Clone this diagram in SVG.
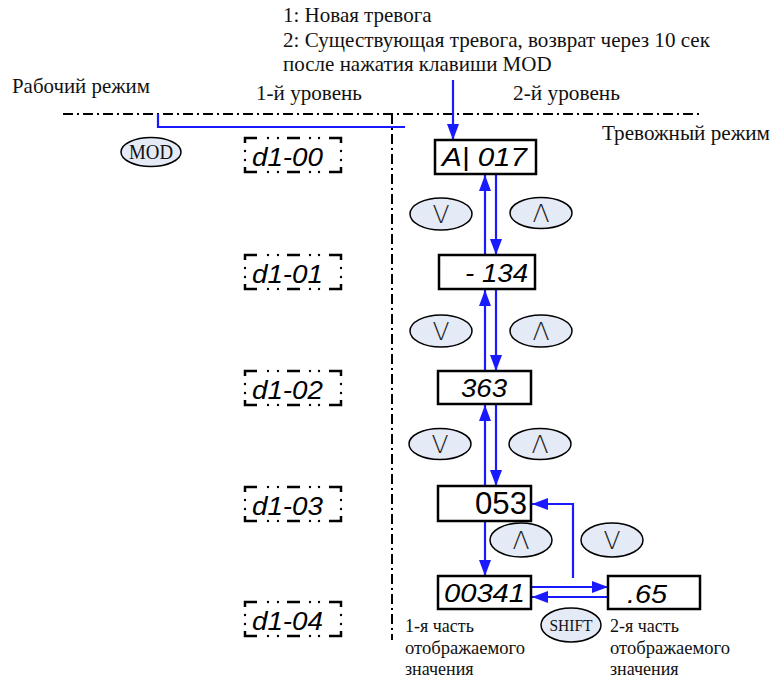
<svg xmlns="http://www.w3.org/2000/svg" width="773" height="682" viewBox="0 0 773 682">
<style>
.t{font-family:"Liberation Serif","Times New Roman",serif;font-size:21px;fill:#111}
.b{font-family:"Liberation Serif","Times New Roman",serif;font-size:18px;fill:#111}
.s{font-family:"Liberation Serif","Times New Roman",serif;fill:#111;text-anchor:middle}
.seg{font-family:"Liberation Sans",Arial,sans-serif;font-style:italic;font-size:25px;fill:#000}
.up{font-family:"Liberation Sans",Arial,sans-serif;font-size:31px;fill:#000}
.key{font-family:"DejaVu Sans","Liberation Sans",sans-serif;font-weight:200;font-size:25px;fill:#222;text-anchor:middle}
.box{fill:#fff;stroke:#000;stroke-width:2.5}
.el{fill:#e4eaf6;stroke:#000;stroke-width:1.5}
.dd{fill:none;stroke:#000;stroke-width:2;stroke-dasharray:10 4 2 4}
.c{fill:none;stroke:#1a1aff;stroke-width:2.2}
.fr{fill:none;stroke:#000;stroke-width:2.5}
.dot{fill:#000}
</style>
<defs>
<marker id="ah" markerUnits="userSpaceOnUse" markerWidth="16" markerHeight="12" refX="16" refY="6" orient="auto">
<path d="M0,0 L16,6 L0,12 z" fill="#1a1aff"/>
</marker>
<symbol id="frame" overflow="visible">
<path class="fr" d="M0,5 V0 H12 M84,0 H96 V5 M0,29 V34 H12 M84,34 H96 V29 M42,0 H55 M42,34 H55"/>
<g class="dot">
<circle cx="23" cy="0" r="1.2"/><circle cx="33" cy="0" r="1.2"/><circle cx="65" cy="0" r="1.2"/><circle cx="74" cy="0" r="1.2"/>
<circle cx="23" cy="34" r="1.2"/><circle cx="33" cy="34" r="1.2"/><circle cx="65" cy="34" r="1.2"/><circle cx="74" cy="34" r="1.2"/>
<circle cx="0" cy="13" r="1.2"/><circle cx="0" cy="22" r="1.2"/><circle cx="96" cy="13" r="1.2"/><circle cx="96" cy="22" r="1.2"/>
</g>
</symbol>
</defs>
<rect width="773" height="682" fill="#fff"/>

<g id="labels">
<text class="t" x="283" y="22">1: Новая тревога</text>
<text class="t" x="283" y="47" textLength="427" lengthAdjust="spacingAndGlyphs">2: Существующая тревога, возврат через 10 сек</text>
<text class="t" x="283" y="71">после нажатия клавиши MOD</text>
<text class="t" x="12" y="93" textLength="138" lengthAdjust="spacingAndGlyphs">Рабочий режим</text>
<text class="t" x="256" y="100" textLength="106" lengthAdjust="spacingAndGlyphs">1-й уровень</text>
<text class="t" x="513" y="100" textLength="107" lengthAdjust="spacingAndGlyphs">2-й уровень</text>
<text class="t" x="602" y="140" textLength="168" lengthAdjust="spacingAndGlyphs">Тревожный режим</text>
<text class="b" x="405" y="632">1-я часть</text>
<text class="b" x="405" y="654" textLength="120" lengthAdjust="spacingAndGlyphs">отображаемого</text>
<text class="b" x="405" y="675">значения</text>
<text class="b" x="610" y="632">2-я часть</text>
<text class="b" x="610" y="654" textLength="120" lengthAdjust="spacingAndGlyphs">отображаемого</text>
<text class="b" x="610" y="675">значения</text>
</g>

<g id="dividers">
<line class="dd" x1="63" y1="114" x2="700" y2="114"/>
<line class="dd" x1="392" y1="114" x2="392" y2="640"/>
</g>

<g id="level1">
<g id="d1-00"><use href="#frame" x="245" y="138"/><text class="seg" x="252" y="166" textLength="71" lengthAdjust="spacingAndGlyphs">d1-00</text></g>
<g id="d1-01"><use href="#frame" x="245" y="255"/><text class="seg" x="252" y="283" textLength="71" lengthAdjust="spacingAndGlyphs">d1-01</text></g>
<g id="d1-02"><use href="#frame" x="245" y="371"/><text class="seg" x="252" y="399" textLength="71" lengthAdjust="spacingAndGlyphs">d1-02</text></g>
<g id="d1-03"><use href="#frame" x="245" y="487"/><text class="seg" x="252" y="515" textLength="71" lengthAdjust="spacingAndGlyphs">d1-03</text></g>
<g id="d1-04"><use href="#frame" x="245" y="602"/><text class="seg" x="252" y="630" textLength="71" lengthAdjust="spacingAndGlyphs">d1-04</text></g>
</g>

<g id="connectors">
<polyline class="c" points="158,114 158,127 405,127"/>
<line class="c" x1="453" y1="80" x2="453" y2="140" stroke-width="1.5" marker-end="url(#ah)"/>
<line class="c" x1="485" y1="255" x2="485" y2="175" marker-end="url(#ah)"/>
<line class="c" x1="496" y1="174" x2="496" y2="255" marker-end="url(#ah)"/>
<line class="c" x1="485" y1="371" x2="485" y2="290" marker-end="url(#ah)"/>
<line class="c" x1="496" y1="289" x2="496" y2="371" marker-end="url(#ah)"/>
<line class="c" x1="485" y1="486" x2="485" y2="405" marker-end="url(#ah)"/>
<line class="c" x1="496" y1="404" x2="496" y2="486" marker-end="url(#ah)"/>
<line class="c" x1="485" y1="521" x2="485" y2="576" marker-end="url(#ah)"/>
<polyline class="c" points="573,578 573,504 532,504" marker-end="url(#ah)"/>
<line class="c" x1="531" y1="587" x2="608" y2="587" marker-end="url(#ah)"/>
<line class="c" x1="611" y1="597" x2="532" y2="597" marker-end="url(#ah)"/>
</g>

<g id="mod"><ellipse class="el" cx="151" cy="152" rx="30" ry="14.5"/><text class="s" x="151" y="159" font-size="20" textLength="44" lengthAdjust="spacingAndGlyphs">MOD</text></g>

<g id="alarm"><rect class="box" x="435" y="140" width="101" height="34"/><text class="seg" x="442" y="166" textLength="85" lengthAdjust="spacingAndGlyphs">A| 017</text></g>
<g id="v134"><rect class="box" x="439" y="255" width="96" height="34"/><text class="seg" x="465" y="282" textLength="63" lengthAdjust="spacingAndGlyphs">- 134</text></g>
<g id="v363"><rect class="box" x="438" y="371" width="93" height="33"/><text class="seg" x="461" y="397" textLength="46" lengthAdjust="spacingAndGlyphs">363</text></g>
<g id="v053"><rect class="box" x="438" y="486" width="93" height="35"/><text class="up" x="475" y="514" textLength="52" lengthAdjust="spacingAndGlyphs">053</text></g>
<g id="v00341"><rect class="box" x="438" y="576" width="93" height="33"/><text class="seg" x="444" y="602" textLength="81" lengthAdjust="spacingAndGlyphs">00341</text></g>
<g id="v65"><rect class="box" x="608" y="576" width="92" height="33"/><text class="seg" x="627" y="603" textLength="40" lengthAdjust="spacingAndGlyphs">.65</text></g>

<g id="keys">
<g id="k1d"><ellipse class="el" cx="441" cy="214" rx="31" ry="16"/><text class="key" x="441" y="223">V</text></g>
<g id="k1u"><ellipse class="el" cx="541" cy="213" rx="31" ry="15.5"/><text class="key" x="541" y="222">Λ</text></g>
<g id="k2d"><ellipse class="el" cx="441" cy="331" rx="31" ry="16"/><text class="key" x="441" y="340">V</text></g>
<g id="k2u"><ellipse class="el" cx="541" cy="331" rx="31" ry="16"/><text class="key" x="541" y="340">Λ</text></g>
<g id="k3d"><ellipse class="el" cx="440" cy="444" rx="31" ry="15.5"/><text class="key" x="440" y="453">V</text></g>
<g id="k3u"><ellipse class="el" cx="540" cy="444" rx="31" ry="15.5"/><text class="key" x="540" y="453">Λ</text></g>
<g id="k4u"><ellipse class="el" cx="521" cy="540" rx="31" ry="17"/><text class="key" x="521" y="549">Λ</text></g>
<g id="k4d"><ellipse class="el" cx="612" cy="540" rx="31" ry="17"/><text class="key" x="612" y="549">V</text></g>
<g id="shift"><ellipse class="el" cx="571" cy="625" rx="30" ry="17"/><text class="s" x="571" y="631" font-size="16" textLength="43" lengthAdjust="spacingAndGlyphs">SHIFT</text></g>
</g>
</svg>
